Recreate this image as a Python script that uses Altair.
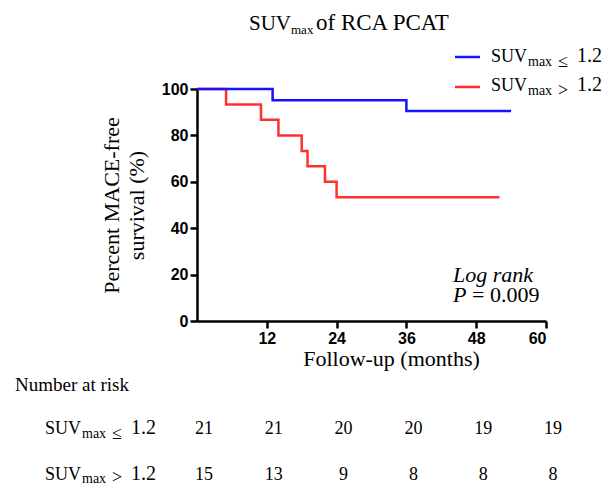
import altair as alt
import pandas as pd

# ---------------- data ----------------
low_time = [0, 13, 36, 54]
low_surv = [100.0, 95.2, 90.5, 90.5]
high_time = [0, 5, 11, 14, 18, 19, 22, 24, 52]
high_surv = [100.0, 93.3, 86.7, 80.0, 73.3, 66.7, 60.0, 53.3, 53.3]
risk_months = [0, 12, 24, 36, 48, 60]
risk_low = [21, 21, 20, 20, 19, 19]
risk_high = [15, 13, 9, 8, 8, 8]
x_ticks = [12, 24, 36, 48, 60]
y_ticks = [0, 20, 40, 60, 80, 100]

BLUE = "#1414ff"
RED = "#ff3030"
SERIF = "Liberation Serif"
SANS = "Liberation Sans"

# plot-area origin in page pixels (used only for annotation layout)
OX, OY = 197, 89
W, H = 349, 232
SVG_W, SVG_H = 594, 478

x_scale = alt.Scale(domain=[0, 60], nice=False, zero=False)
y_scale = alt.Scale(domain=[0, 100], nice=False)

one = pd.DataFrame({"a": [0]})

low_df = pd.DataFrame({"month": low_time, "surv": low_surv})
high_df = pd.DataFrame({"month": high_time, "surv": high_surv})

x_axis = alt.Axis(values=x_ticks, title="Follow-up (months)", titleX=194, titleY=44,
                  titleAlign="center", titleBaseline="alphabetic")
y_axis = alt.Axis(values=y_ticks, title=["Percent MACE-free", "survival (%)"],
                  titleX=-86, titleY=H / 2, titleAngle=270, titleBaseline="middle",
                  titleAlign="center", titleLineHeight=25)

red_line = alt.Chart(high_df).mark_line(interpolate="step-after", strokeWidth=2.5, color=RED).encode(
    x=alt.X("month:Q", scale=x_scale, axis=x_axis),
    y=alt.Y("surv:Q", scale=y_scale, axis=y_axis),
)
blue_line = alt.Chart(low_df).mark_line(interpolate="step-after", strokeWidth=2.5, color=BLUE).encode(
    x=alt.X("month:Q", scale=x_scale, axis=x_axis),
    y=alt.Y("surv:Q", scale=y_scale, axis=y_axis),
)


def txt(s, x, y, size, style="normal", font=SERIF, align="left"):
    return alt.Chart(one).mark_text(
        font=font, fontSize=size, fontStyle=style, align=align,
        baseline="alphabetic", color="black"
    ).encode(x=alt.value(x - OX), y=alt.value(y - OY), text=alt.value(s))


def suv_label(x0, y0, sym, sub_dy=4, sym_dy=5):
    return [
        txt("SUV", x0, y0, 18),
        txt("max", x0 + 37, y0 + sub_dy, 14),
        txt(sym, x0 + 67, y0 + sym_dy, 18),
        txt("1.2", x0 + 86, y0, 20),
    ]


layers = [red_line, blue_line]

# title
layers += [
    txt("SUV", 249, 30, 21),
    txt("max", 291, 34, 13),
    txt("of RCA PCAT", 316, 30, 23),
]

# legend
layers += [
    alt.Chart(one).mark_rule(color=BLUE, strokeWidth=2.5).encode(
        x=alt.value(455 - OX), x2=alt.value(480 - OX), y=alt.value(57 - OY)),
    alt.Chart(one).mark_rule(color=RED, strokeWidth=2.5).encode(
        x=alt.value(455 - OX), x2=alt.value(480 - OX), y=alt.value(87 - OY)),
]
layers += suv_label(491, 62, "≤")
layers += suv_label(491, 91, ">")

# log rank annotation
layers += [
    txt("Log rank", 453, 282, 22, style="italic"),
    txt("P", 453, 302, 22, style="italic"),
    txt("= 0.009", 472, 302, 22),
]

# number at risk table
layers += [txt("Number at risk", 15, 391, 19)]
layers += suv_label(45, 434, "≤")
layers += suv_label(45, 480, ">", sub_dy=3, sym_dy=3)

risk_low_df = pd.DataFrame({"month": risk_months, "n": risk_low})
risk_high_df = pd.DataFrame({"month": risk_months, "n": risk_high})
for df, yy in [(risk_low_df, 434), (risk_high_df, 480)]:
    layers.append(
        alt.Chart(df).mark_text(font=SERIF, fontSize=18, align="center", baseline="alphabetic",
                                dx=7, color="black").encode(
            x=alt.X("month:Q", scale=x_scale, axis=x_axis),
            y=alt.value(yy - OY),
            text="n:Q",
        )
    )

chart = alt.layer(*layers).properties(
    width=W, height=H,
    autosize=alt.AutoSizeParams(type="none"),
    padding={"left": OX - 8, "top": OY - 8, "right": SVG_W - (OX - 8) - W,
             "bottom": SVG_H - (OY - 8) - H},
).configure_view(stroke=None).configure_axis(
    grid=False,
    domainColor="black", domainWidth=2.5,
    tickColor="black", tickWidth=2.5, tickSize=7,
    labelFont=SANS, labelFontWeight="bold", labelFontSize=16, labelColor="black",
    labelPadding=2,
    titleFont=SERIF, titleFontWeight="normal", titleFontSize=22, titleColor="black",
)

chart.save("out.html", embed_options={"renderer": "svg", "actions": False})
